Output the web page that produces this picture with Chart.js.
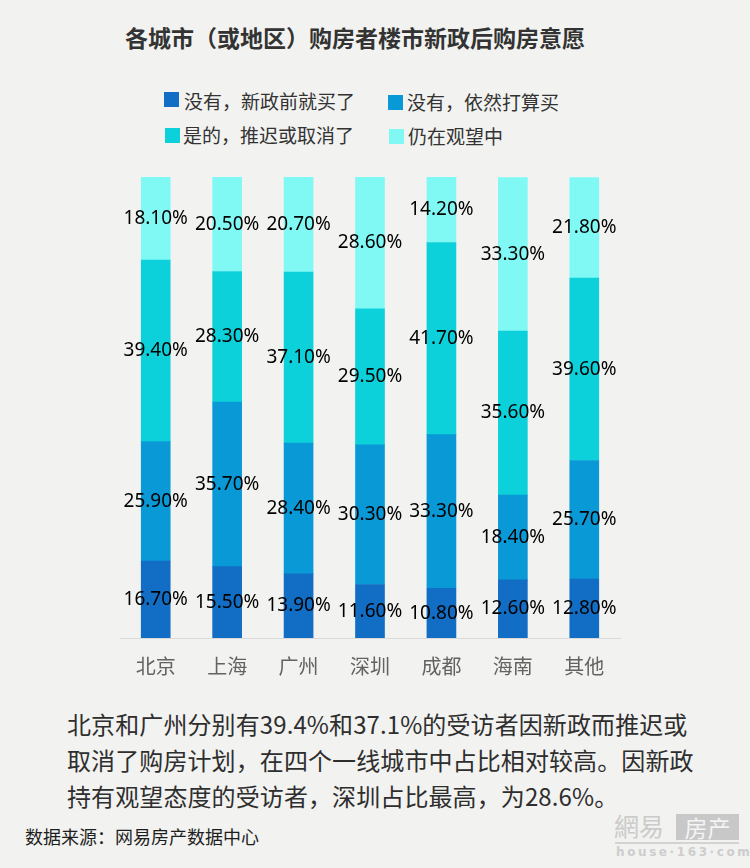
<!DOCTYPE html>
<html>
<head>
<meta charset="utf-8">
<script src="https://cdn.jsdelivr.net/npm/chart.js@4/dist/chart.umd.min.js"></script>
<style>
  html,body{margin:0;padding:0;}
  body{width:750px;height:868px;background:#f2f2f0;position:relative;overflow:hidden;
       font-family:"Noto Sans CJK SC","Noto Sans",sans-serif;}
  .abs{position:absolute;white-space:nowrap;}
  #title{left:125px;top:22px;font-size:23px;font-weight:bold;color:#333;line-height:30px;}
  .sw{position:absolute;width:15px;height:15px;}
  .lt{position:absolute;font-size:19px;color:#333;line-height:24px;white-space:nowrap;}
  #chartWrap{position:absolute;left:0;top:160px;width:750px;height:520px;}
  #para{left:67px;top:706px;font-size:24px;line-height:36px;color:#2e2e2e;letter-spacing:0.1px;}
  #src{left:25px;top:824px;font-size:18px;line-height:24px;color:#1e1e1e;}
  #wm1{left:614px;top:810px;font-size:25px;line-height:30px;color:#cbcbcb;font-family:"Noto Sans CJK SC",serif;}
  #wm2{left:676px;top:814px;width:63px;height:26px;background:#c8c8c8;color:#f4f4f4;font-size:23px;line-height:26px;text-align:center;font-family:"Noto Sans CJK SC",serif;}
  #wmline{left:615px;top:842px;width:124px;height:2px;background:#d3d3d3;}
  #wm3{left:616px;top:845px;font-size:12px;line-height:14px;font-weight:bold;color:#cdcdcd;letter-spacing:2.6px;font-family:"DejaVu Sans",sans-serif;}
</style>
</head>
<body>
<div id="title" class="abs">各城市（或地区）购房者楼市新政后购房意愿</div>

<div id="legend"></div>

<div id="chartWrap"><canvas id="c" width="750" height="520"></canvas></div>

<div id="para" class="abs">北京和广州分别有39.4%和37.1%的受访者因新政而推迟或<br>取消了购房计划，在四个一线城市中占比相对较高。因新政<br>持有观望态度的受访者，深圳占比最高，为28.6%。</div>
<div id="src" class="abs">数据来源：网易房产数据中心</div>

<div id="wm1" class="abs">網易</div>
<div id="wm2" class="abs">房产</div>
<div id="wmline" class="abs"></div>
<div id="wm3" class="abs">house·163·com</div>

<script>
// ---- data ----
const categories = ['北京','上海','广州','深圳','成都','海南','其他'];
const seriesNames = ['没有，新政前就买了','没有，依然打算买','是的，推迟或取消了','仍在观望中'];
const boughtBefore = [16.7, 15.5, 13.9, 11.6, 10.8, 12.6, 12.8];
const stillPlan    = [25.9, 35.7, 28.4, 30.3, 33.3, 18.4, 25.7];
const postponed    = [39.4, 28.3, 37.1, 29.5, 41.7, 35.6, 39.6];
const waiting      = [18.1, 20.5, 20.7, 28.6, 14.2, 33.3, 21.8];
const seriesColors = ['#126ec5','#0a99d7','#0dd1da','#80f9f5'];

// ---- html legend ----
const legendPos = [
  {sx:164, sy:92,  tx:184, ty:89},
  {sx:388, sy:95,  tx:407, ty:90},
  {sx:165, sy:128, tx:183, ty:123},
  {sx:389, sy:129, tx:408, ty:124}
];
const lg = document.getElementById('legend');
seriesNames.forEach((n,i)=>{
  const p = legendPos[i];
  const s = document.createElement('div');
  s.className='sw'; s.style.left=p.sx+'px'; s.style.top=p.sy+'px'; s.style.background=seriesColors[i];
  const t = document.createElement('div');
  t.className='lt'; t.style.left=p.tx+'px'; t.style.top=p.ty+'px'; t.textContent=n;
  lg.appendChild(s); lg.appendChild(t);
});

// ---- segment labels plugin ----
const segLabels = {
  id:'segLabels',
  afterDatasetsDraw(chart){
    const ctx = chart.ctx;
    ctx.save();
    ctx.font = '19px "Noto Sans", sans-serif';
    ctx.fillStyle = '#000';
    ctx.textAlign = 'center';
    ctx.textBaseline = 'middle';
    chart.data.datasets.forEach((ds,i)=>{
      const meta = chart.getDatasetMeta(i);
      meta.data.forEach((el,j)=>{
        const y = (el.y + el.base)/2;
        ctx.fillText(ds.data[j].toFixed(2)+'%', el.x, y);
      });
    });
    ctx.restore();
  }
};

const allSeries = [boughtBefore, stillPlan, postponed, waiting];
new Chart(document.getElementById('c'), {
  type:'bar',
  data:{
    labels:categories,
    datasets: allSeries.map((d,i)=>({
      label:seriesNames[i],
      data:d,
      backgroundColor:seriesColors[i],
      borderWidth:0,
      barThickness:29
    }))
  },
  options:{
    responsive:false,
    devicePixelRatio:1,
    animation:false,
    layout:{padding:{left:120,right:130,top:17,bottom:0}},
    plugins:{legend:{display:false},tooltip:{enabled:false}},
    scales:{
      x:{
        stacked:true,
        grid:{display:false,drawTicks:false},
        border:{display:true,color:'#d9d9d9',width:1},
        ticks:{color:'#636363',font:{size:20,family:'"Noto Sans CJK SC", sans-serif'},padding:16},
        afterFit(scale){ scale.height = 42; }
      },
      y:{
        stacked:true,
        display:false,
        min:0,max:100
      }
    }
  },
  plugins:[segLabels]
});
</script>
</body>
</html>
